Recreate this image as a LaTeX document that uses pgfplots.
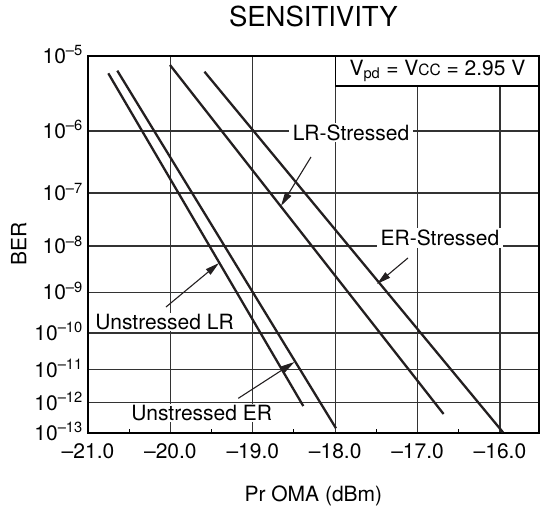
\documentclass[border=0pt]{standalone}
\usepackage{fontspec}
\setmainfont{TeX Gyre Heros}
\usepackage{pgfplots}
\pgfplotsset{compat=1.18}
\usetikzlibrary{arrows.meta}
\newcommand\fs{\fontsize{21}{24}\selectfont}
\definecolor{ink}{HTML}{231F20}
\begin{document}
\begin{tikzpicture}
\useasboundingbox (-88pt,-81pt) rectangle (453pt,433pt);
\begin{axis}[
  scale only axis, width=450.7pt, height=377.3pt,
  xmin=-21, xmax=-15.53, ymin=-1.9945, ymax=-1.4504,
  xtick={-21,-20,-19,-18,-17,-16},
  xticklabels={–21.0,–20.0,–19.0,–18.0,–17.0,–16.0},
  minor xtick={-20.5,-19.5,-18.5,-17.5,-16.5},
  ytick={-1.9945,-1.9508,-1.9030,-1.8502,-1.7914,-1.7249,-1.6485,-1.5589,-1.4504},
  yticklabels={10\textsuperscript{–13},10\textsuperscript{–12},10\textsuperscript{–11},10\textsuperscript{–10},10\textsuperscript{–9},10\textsuperscript{–8},10\textsuperscript{–7},10\textsuperscript{–6},10\textsuperscript{–5}},
  grid=major, major grid style={line width=1.2pt, black!80},
  axis line style={line width=2pt, black},
  tick align=inside, xtick pos=bottom, ytick pos=left,
  major tick length=0pt, minor tick length=4pt,
  minor tick style={line width=1pt, black},
  tick label style={font=\fs},
  xticklabel style={anchor=base, yshift=-25pt, inner sep=0pt},
  yticklabel style={anchor=base east, xshift=-5pt, yshift=-7.5pt, inner sep=0pt},
  xlabel={Pr OMA (dBm)}, ylabel={BER},
  label style={font=\fs},
  xlabel style={at={(axis description cs:0.5,0)}, anchor=base, yshift=-68pt},
  ylabel style={at={(axis description cs:-0.137,0.5)}, anchor=base},
  title={SENSITIVITY},
  title style={font=\fontsize{27.5}{32}\selectfont, at={(axis description cs:0.5,1)}, anchor=base, yshift=23pt},
]
% Unstressed LR
\addplot[line width=2.3pt, ink] coordinates {(-20.7536,-1.4758) (-18.3871,-1.9556)};
% Unstressed ER
\addplot[line width=2.3pt, ink] coordinates {(-20.6444,-1.4720) (-17.9903,-1.9877)};
% LR-Stressed
\addplot[line width=2.3pt, ink] coordinates {(-20.0049,-1.4638) (-16.6845,-1.9671)};
% ER-Stressed
\addplot[line width=2.3pt, ink] coordinates {(-19.5862,-1.4735) (-15.9636,-1.9935)};

% condition box
\fill[white] (axis cs:-18,-1.4518) rectangle (axis cs:-15.545,-1.4941);
\draw[line width=1.2pt, black] (axis cs:-18,-1.4504) -- (axis cs:-18,-1.4941) -- (axis cs:-15.53,-1.4941);
\node[font=\fs] at (axis cs:-16.7585,-1.4725) {V\textsubscript{pd} = V{\fontsize{15.5}{17}\selectfont CC} = 2.95 V};

% labels
\node[fill=white, inner xsep=4pt, inner ysep=1.5pt, font=\fs] at (axis cs:-17.8083,-1.5612) {LR-Stressed};
\node[fill=white, inner xsep=4pt, inner ysep=1.5pt, font=\fs] at (axis cs:-16.7282,-1.7133) {ER-Stressed};
\node[fill=white, inner xsep=4pt, inner ysep=1pt, font=\fs] at (axis cs:-20.0716,-1.8340) {Unstressed LR};
\node[fill=white, inner xsep=8pt, inner ysep=1.5pt, font=\fs] at (axis cs:-19.6201,-1.9657) {Unstressed ER};

% arrows
\draw[line width=1.1pt, ink, -{Triangle[length=14pt,width=7pt]}] (axis cs:-18.2937,-1.5965) -- (axis cs:-18.6578,-1.6671);
\draw[line width=1.1pt, ink, -{Triangle[length=14pt,width=7pt]}] (axis cs:-17.1165,-1.7421) -- (axis cs:-17.4927,-1.7796);
\draw[line width=1.1pt, ink, -{Triangle[length=14pt,width=7pt]}] (axis cs:-20.0534,-1.8128) -- (axis cs:-19.4102,-1.7494);
\draw[line width=1.1pt, ink, -{Triangle[length=14pt,width=7pt]}] (axis cs:-19.1760,-1.9445) -- (axis cs:-18.4939,-1.8921);
\end{axis}
\end{tikzpicture}
\end{document}
